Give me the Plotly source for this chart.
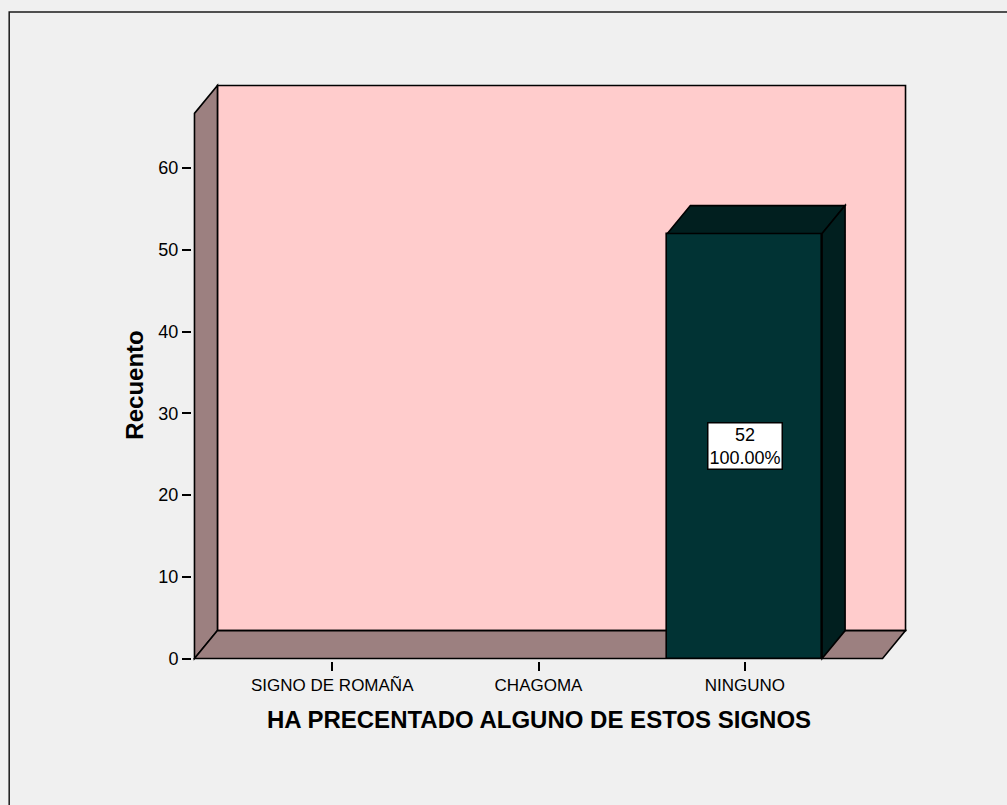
import plotly.graph_objects as go

# Data
categories = ["SIGNO DE ROMAÑA", "CHAGOMA", "NINGUNO"]
counts = [0, 0, 52]
y_tick_values = [0, 10, 20, 30, 40, 50, 60]
total = sum(counts)

# 3D frame geometry (in axis units)
x_lo, x_hi = -0.668, 2.668       # front floor extent
y_top = 66.7                     # front top of the side wall
depth_x, depth_y = 0.1114, 3.42  # perspective offset of the back plane
bar_width = 0.75
pad_x, pad_y = 0.012, 0.3

# pixel scale used to size the plotting area
px_x, px_y = 206.5, 8.183
W, H = 1007, 805
front_left_px, back_top_px, floor_px = 194, 85, 659

x_range = [x_lo - pad_x, x_hi + depth_x + pad_x]
y_range = [-pad_y, y_top + depth_y + pad_y]
plot_w = (x_range[1] - x_range[0]) * px_x
plot_h = (y_range[1] - y_range[0]) * px_y
m_l = front_left_px - pad_x * px_x
m_t = back_top_px - pad_y * px_y
m_b = H - (floor_px + pad_y * px_y)
m_r = W - m_l - plot_w

WALL = "#FFCCCC"
SIDE = "#9C8080"
BAR_FRONT = "#013334"
BAR_DARK = "#011F1F"
LINE = dict(color="black", width=1.6)
FONT = "Liberation Sans, Arial"

fig = go.Figure()

# front faces of the bars (empty categories get no outline)
fig.add_trace(go.Bar(
    x=list(range(len(categories))), y=counts, width=bar_width,
    marker=dict(color=BAR_FRONT,
                line=dict(color="black", width=[1.6 if v > 0 else 0 for v in counts])),
    hoverinfo="skip", showlegend=False,
))

shapes = []


def poly(pts, fill, layer):
    path = "M " + " L ".join(f"{px},{py}" for px, py in pts) + " Z"
    shapes.append(dict(type="path", path=path, xref="x", yref="y",
                       fillcolor=fill, line=LINE, layer=layer))


# back wall
poly([(x_lo + depth_x, depth_y), (x_hi + depth_x, depth_y),
      (x_hi + depth_x, y_top + depth_y), (x_lo + depth_x, y_top + depth_y)], WALL, "below")
# left side wall
poly([(x_lo, 0), (x_lo + depth_x, depth_y),
      (x_lo + depth_x, y_top + depth_y), (x_lo, y_top)], SIDE, "below")
# floor
poly([(x_lo, 0), (x_hi, 0), (x_hi + depth_x, depth_y), (x_lo + depth_x, depth_y)], SIDE, "below")

# top and right faces of the bars
for i, v in enumerate(counts):
    if v <= 0:
        continue
    a, b = i - bar_width / 2, i + bar_width / 2
    poly([(a, v), (b, v), (b + depth_x, v + depth_y), (a + depth_x, v + depth_y)], BAR_DARK, "above")
    poly([(b, 0), (b + depth_x, depth_y), (b + depth_x, v + depth_y), (b, v)], BAR_DARK, "above")

# outer chart frame
fx = lambda p: (p - m_l) / plot_w
fy = lambda p: 1 - (p - m_t) / plot_h
shapes.append(dict(type="rect", xref="paper", yref="paper",
                   x0=fx(8.5), x1=fx(1030), y0=fy(11.5), y1=fy(830),
                   line=dict(color="#1a1a1a", width=1.5), fillcolor="rgba(0,0,0,0)",
                   layer="below"))

annotations = []
for i, v in enumerate(counts):
    if v <= 0:
        continue
    annotations.append(dict(
        x=i, y=v / 2, xref="x", yref="y",
        text=f"{v}<br>{v / total * 100:.2f}%", showarrow=False,
        xanchor="center", yanchor="middle",
        font=dict(family=FONT, size=18, color="black"),
        bgcolor="white", bordercolor="black", borderwidth=1.5, borderpad=1,
    ))

annotations.append(dict(
    x=1, y=fy(720), xref="x", yref="paper", xanchor="center", yanchor="middle",
    text="<b>HA PRECENTADO ALGUNO DE ESTOS SIGNOS</b>", showarrow=False,
    font=dict(family=FONT, size=24, color="black"),
))
annotations.append(dict(
    x=fx(134), y=fy(385), xref="paper", yref="paper", textangle=-90,
    xanchor="center", yanchor="middle",
    text="<b>Recuento</b>", showarrow=False,
    font=dict(family=FONT, size=24, color="black"),
))

fig.update_layout(
    width=W, height=H,
    margin=dict(l=m_l, r=m_r, t=m_t, b=m_b, pad=0),
    paper_bgcolor="#F0F0F0", plot_bgcolor="rgba(0,0,0,0)",
    shapes=shapes, annotations=annotations,
    font=dict(family=FONT, size=16, color="black"),
    bargap=0,
)
fig.update_xaxes(
    range=x_range, showgrid=False, zeroline=False, showline=False,
    tickmode="array", tickvals=list(range(len(categories))), ticktext=categories,
    ticks="outside", ticklen=9, tickwidth=2, tickcolor="black",
    tickfont=dict(size=17), fixedrange=True,
)
fig.update_yaxes(
    range=y_range, showgrid=False, zeroline=False, showline=False,
    tickmode="array", tickvals=y_tick_values,
    ticks="outside", ticklen=9, tickwidth=2, tickcolor="black",
    tickfont=dict(size=18), fixedrange=True,
)

fig.write_html("out.html")
